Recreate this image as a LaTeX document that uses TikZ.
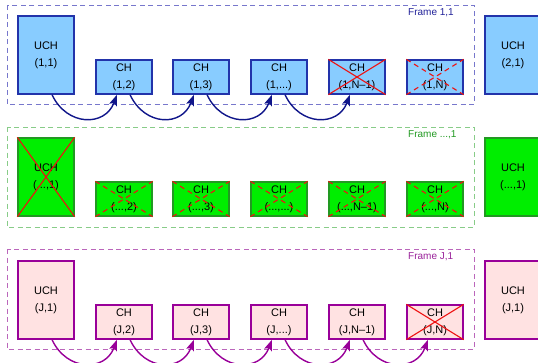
\documentclass[tikz,border=0pt]{standalone}
\usepackage{fontspec}
\setmainfont{Liberation Sans}
\usetikzlibrary{arrows.meta}
\definecolor{bfill}{HTML}{88CCFF}
\definecolor{bline}{HTML}{2233AA}
\definecolor{barrow}{HTML}{10168A}
\definecolor{bframe}{HTML}{7777CC}
\definecolor{blabel}{HTML}{222299}
\definecolor{gfill}{HTML}{00EE00}
\definecolor{gline}{HTML}{229922}
\definecolor{gframe}{HTML}{88CC88}
\definecolor{glabel}{HTML}{229922}
\definecolor{pfill}{HTML}{FFE2E2}
\definecolor{pline}{HTML}{990099}
\definecolor{pframe}{HTML}{BB66BB}
\definecolor{plabel}{HTML}{992299}
\definecolor{xred}{HTML}{EE1111}
\tikzset{
  boxbase/.style={draw, line width=1.3pt, align=center, inner sep=0pt,
    font=\fontsize{11}{17}\selectfont, text=black},
  uchbox/.style={boxbase, minimum width=56pt, minimum height=78pt},
  chbox/.style={boxbase, minimum width=56pt, minimum height=34pt},
  rowb/.style={fill=bfill, draw=bline},
  rowg/.style={fill=gfill, draw=gline},
  rowp/.style={fill=pfill, draw=pline},
  frm/.style={dash pattern=on 5pt off 3.5pt, line width=0.8pt},
  frmlabel/.style={anchor=west, inner sep=0pt, font=\fontsize{10}{12}\selectfont},
  hop/.style={line width=1.4pt, -{Stealth[length=11pt,width=8pt,inset=2pt]}},
  xsolid/.style={draw=xred, line width=1.1pt},
  xdash/.style={draw=xred, line width=1.1pt, dash pattern=on 5pt off 4pt}
}
\newcommand{\crossbox}[2]{\draw[#2] (#1.north west) -- (#1.south east) (#1.south west) -- (#1.north east);}
\newcommand{\hoparrow}[3]{\draw[hop,#3] ([xshift=6pt]#1.south) .. controls +(15,32) and +(-12,32) .. ([xshift=-7pt]#2.south);}
\begin{document}
\begin{tikzpicture}[x=1pt,y=-1pt]
\useasboundingbox (0,0) rectangle (538,362);
% ---------- Row 1 ----------
\draw[frm, draw=bframe] (7,5) rectangle (474,104);
\node[frmlabel, text=blabel] (f1) at (408,13) {Frame 1,1};
\node[uchbox, rowb] (a1) at (46,55) {UCH\\(1,1)};
\node[chbox, rowb] (a2) at (124,77) {CH\\(1,2)};
\node[chbox, rowb] (a3) at (201,77) {CH\\(1,3)};
\node[chbox, rowb] (a4) at (279,77) {CH\\(1,...)};
\node[chbox, rowb] (a5) at (357,77) {CH\\(1,N--1)};
\node[chbox, rowb] (a6) at (435,77) {CH\\(1,N)};
\node[uchbox, rowb] (a7) at (513,55) {UCH\\(2,1)};
\crossbox{a5}{xsolid}
\crossbox{a6}{xdash}
\hoparrow{a1}{a2}{barrow}
\hoparrow{a2}{a3}{barrow}
\hoparrow{a3}{a4}{barrow}
\hoparrow{a4}{a5}{barrow}
% ---------- Row 2 ----------
\draw[frm, draw=gframe] (7,127) rectangle (474,227);
\node[frmlabel, text=glabel] (f2) at (408,135) {Frame ...,1};
\node[uchbox, rowg] (b1) at (46,177) {UCH\\(...,1)};
\node[chbox, rowg] (b2) at (124,199) {CH\\(...,2)};
\node[chbox, rowg] (b3) at (201,199) {CH\\(...,3)};
\node[chbox, rowg] (b4) at (279,199) {CH\\(...,...)};
\node[chbox, rowg] (b5) at (357,199) {CH\\(...,N--1)};
\node[chbox, rowg] (b6) at (435,199) {CH\\(...,N)};
\node[uchbox, rowg] (b7) at (513,177) {UCH\\(...,1)};
\crossbox{b1}{xsolid}
\crossbox{b2}{xdash}
\crossbox{b3}{xdash}
\crossbox{b4}{xdash}
\crossbox{b5}{xdash}
\crossbox{b6}{xdash}
% ---------- Row 3 ----------
\draw[frm, draw=pframe] (7,249) rectangle (474,349);
\node[frmlabel, text=plabel] (f3) at (408,257) {Frame J,1};
\node[uchbox, rowp] (c1) at (46,300) {UCH\\(J,1)};
\node[chbox, rowp] (c2) at (124,322) {CH\\(J,2)};
\node[chbox, rowp] (c3) at (201,322) {CH\\(J,3)};
\node[chbox, rowp] (c4) at (279,322) {CH\\(J,...)};
\node[chbox, rowp] (c5) at (357,322) {CH\\(J,N--1)};
\node[chbox, rowp] (c6) at (435,322) {CH\\(J,N)};
\node[uchbox, rowp] (c7) at (513,300) {UCH\\(J,1)};
\crossbox{c6}{xsolid}
\hoparrow{c1}{c2}{pline}
\hoparrow{c2}{c3}{pline}
\hoparrow{c3}{c4}{pline}
\hoparrow{c4}{c5}{pline}
\hoparrow{c5}{c6}{pline}
\end{tikzpicture}
\end{document}
